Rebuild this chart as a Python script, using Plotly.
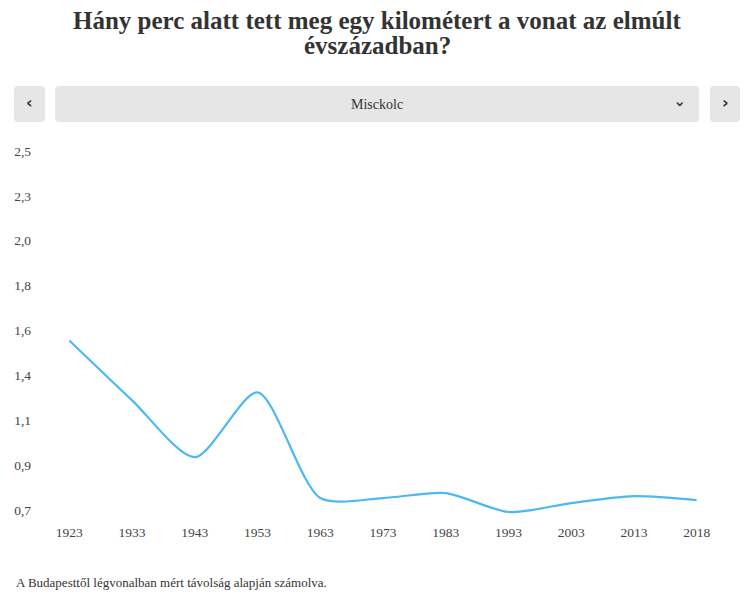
import plotly.graph_objects as go

# minutes per km, Budapest - Miskolc line
years = ['1923', '1933', '1943', '1953', '1963', '1973', '1983', '1993', '2003', '2013', '2018']
minutes_per_km = [1.55, 1.25, 0.965, 1.29, 0.76, 0.76, 0.785, 0.69, 0.735, 0.77, 0.75]
y_tickvals = [0.7, 0.925, 1.15, 1.375, 1.6, 1.825, 2.05, 2.275, 2.5]
y_ticktext = ['0,7', '0,9', '1,1', '1,4', '1,6', '1,8', '2,0', '2,3', '2,5']
title_lines = ['Hány perc alatt tett meg egy kilométert a vonat az elmúlt', 'évszázadban?']
city = 'Misckolc'
footnote = 'A Budapesttől légvonalban mért távolság alapján számolva.'

# page body has an 8px margin, so the figure is drawn 8px in from the top-left
OFF = 8
W, H = 748 - OFF, 598 - OFF
L, R, T, B = 38 - OFF, 20, 141 - OFF, 78
PW, PH = W - L - R, H - T - B

def px(x):
	return (x - OFF - L) / PW

def py(y):
	return (H - B - (y - OFF)) / PH

def rounded_rect(x0, y0, x1, y1, r=4):
	''' Rounded rectangle path in paper coords from a pixel box of the window. '''
	pts = [
		f'M{px(x0 + r)},{py(y0)}', f'L{px(x1 - r)},{py(y0)}',
		f'Q{px(x1)},{py(y0)} {px(x1)},{py(y0 + r)}', f'L{px(x1)},{py(y1 - r)}',
		f'Q{px(x1)},{py(y1)} {px(x1 - r)},{py(y1)}', f'L{px(x0 + r)},{py(y1)}',
		f'Q{px(x0)},{py(y1)} {px(x0)},{py(y1 - r)}', f'L{px(x0)},{py(y0 + r)}',
		f'Q{px(x0)},{py(y0)} {px(x0 + r)},{py(y0)}', 'Z',
	]
	return ' '.join(pts)

serif = 'Liberation Serif, Times New Roman, serif'
grey_btn = '#e6e6e6'
txt = '#333333'

fig = go.Figure(go.Scatter(
	x=years, y=minutes_per_km, mode='lines',
	line=dict(color='#4cb9f1', width=2.2, shape='spline', smoothing=0.75),
	hoverinfo='x+y',
))

shapes = []
for box in [(14, 86, 45, 122), (55, 86, 699, 122), (710, 86, 740, 122)]:
	shapes.append(dict(type='path', xref='paper', yref='paper', path=rounded_rect(*box),
		fillcolor=grey_btn, line=dict(width=0), layer='below'))

def label(text, x, y, size, family=serif, xanchor='center', angle=0):
	return dict(text=text, x=px(x), y=py(y), xref='paper', yref='paper', xanchor=xanchor,
		yanchor='middle', showarrow=False, textangle=angle,
		font=dict(family=family, size=size, color=txt))

annotations = [
	label('<b>' + title_lines[0] + '</b>', 377, 20, 25),
	label('<b>' + title_lines[1] + '</b>', 377, 45, 25),
	label('<b>‹</b>', 29.5, 103, 16, family='DejaVu Sans'),
	label('<b>›</b>', 725, 103, 16, family='DejaVu Sans'),
	label(city, 377, 104, 14),
	label('<b>›</b>', 680, 104, 15, family='DejaVu Sans', angle=90),
	label(footnote, 14, 582, 13, xanchor='left'),
]

fig.update_layout(
	width=W, height=H,
	margin=dict(l=L, r=R, t=T, b=B),
	paper_bgcolor='white', plot_bgcolor='white',
	showlegend=False,
	font=dict(family=serif, size=13, color='#444444'),
	xaxis=dict(type='category', range=[-0.5, 10.5], showgrid=False, zeroline=False,
		showline=False, ticks='', automargin=False, ticklabelstandoff=2,
		tickfont=dict(size=13.5, color='#444444')),
	yaxis=dict(range=[0.65, 2.55], tickvals=y_tickvals, ticktext=y_ticktext,
		showgrid=False, zeroline=False, showline=False, ticklabelstandoff=6, automargin=False,
		tickfont=dict(size=13.5, color='#444444')),
	shapes=shapes,
	annotations=annotations,
)

fig.write_html('out.html')
